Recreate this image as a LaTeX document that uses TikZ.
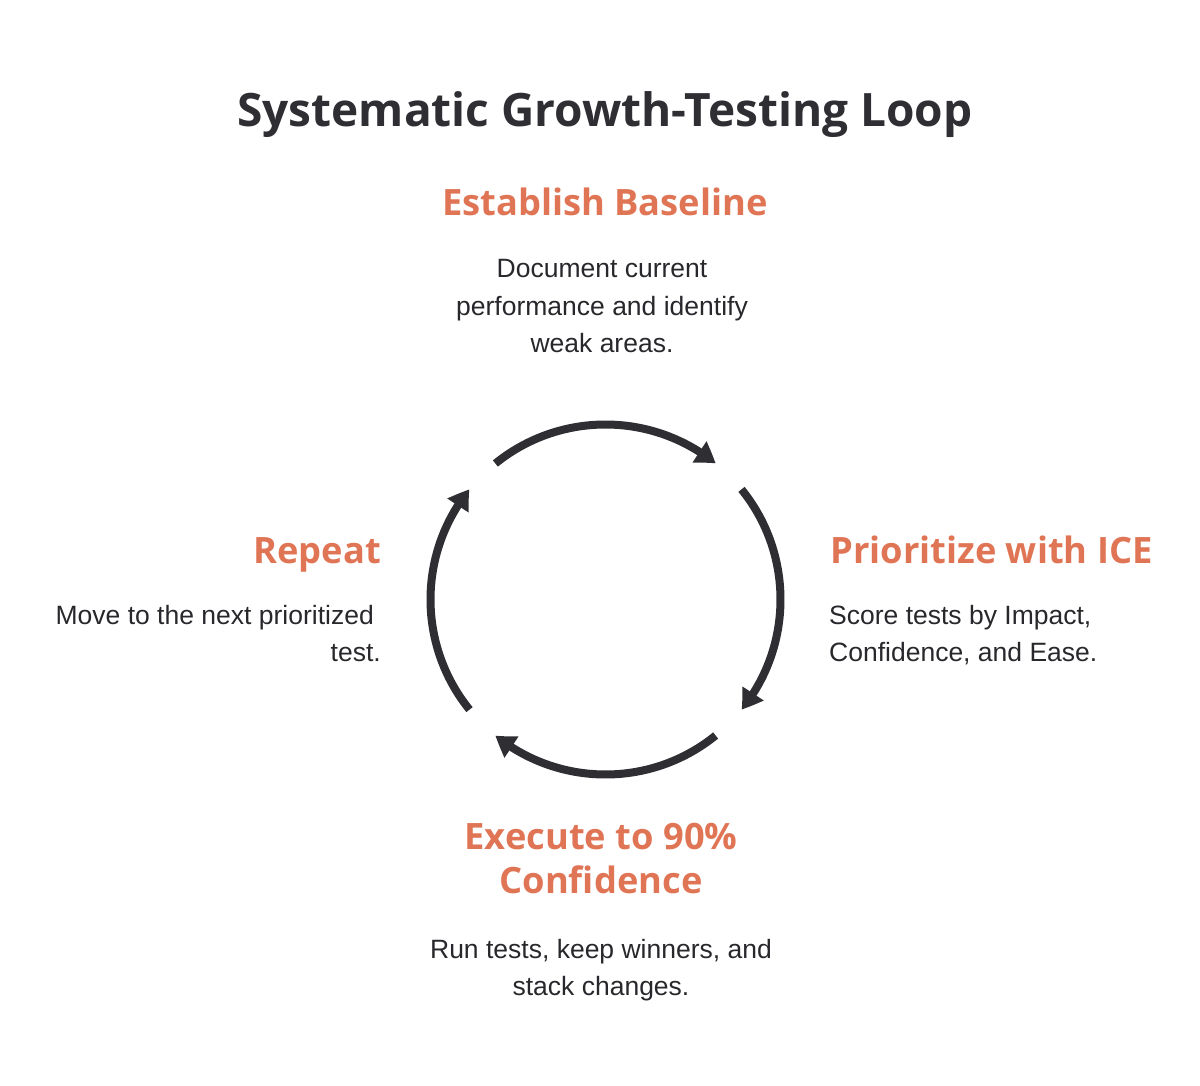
\documentclass[tikz,border=0pt]{standalone}
\usepackage{fontspec}
\setmainfont{Liberation Sans}
\newfontfamily\headfont{Open Sans}
\usetikzlibrary{arrows.meta,bending}
\definecolor{accent}{RGB}{224,117,85}
\definecolor{ink}{RGB}{46,46,51}
\definecolor{bodyink}{RGB}{40,40,44}
\begin{document}
\begin{tikzpicture}[x=1pt,y=1pt,
  titletext/.style={font=\headfont\bfseries\fontsize{46}{54}\selectfont, text=ink, anchor=base, inner sep=0pt},
  head/.style={font=\headfont\bfseries\fontsize{36.3}{43.5}\selectfont, text=accent, anchor=base, inner sep=0pt},
  desc/.style={font=\fontsize{26.5}{37}\selectfont, text=bodyink, anchor=base, inner sep=0pt},
  looparc/.style={draw=ink, line width=8pt, -{Triangle[length=20pt,width=24pt,bend]}}]
\useasboundingbox (0,0) rectangle (1200,-1086);
\coordinate (c) at (605.5,-599.5);
\node[titletext] (t) at (605,-127) {Systematic Growth-Testing Loop};
\node[head] (h1) at (605,-216) {Establish Baseline};
\node[desc, align=center] (d1) at (602,-352) {Document current\\performance and identify\\weak areas.};
\node[head, anchor=base west] (h2) at (830,-563) {Prioritize with ICE};
\node[desc, align=left, anchor=base west] (d2) at (829,-661) {Score tests by Impact,\\Confidence, and Ease.};
\node[head, anchor=base east] (h4) at (381,-563) {Repeat};
\node[desc, align=right, anchor=base east] (d4) at (381,-661) {Move to the next prioritized\hspace*{7pt}\\test.};
\node[head, align=center] (h3) at (601,-893) {Execute to 90\%\\Confidence};
\node[desc, align=center] (d3) at (601,-995) {Run tests, keep winners, and\\stack changes.};
\draw[looparc] ([shift={(c)}]129:175) arc[start angle=129, end angle=51, radius=175];
\draw[looparc] ([shift={(c)}]39:175) arc[start angle=39, end angle=-39, radius=175];
\draw[looparc] ([shift={(c)}]-51:175) arc[start angle=-51, end angle=-129, radius=175];
\draw[looparc] ([shift={(c)}]-141:175) arc[start angle=-141, end angle=-219, radius=175];
\end{tikzpicture}
\end{document}
